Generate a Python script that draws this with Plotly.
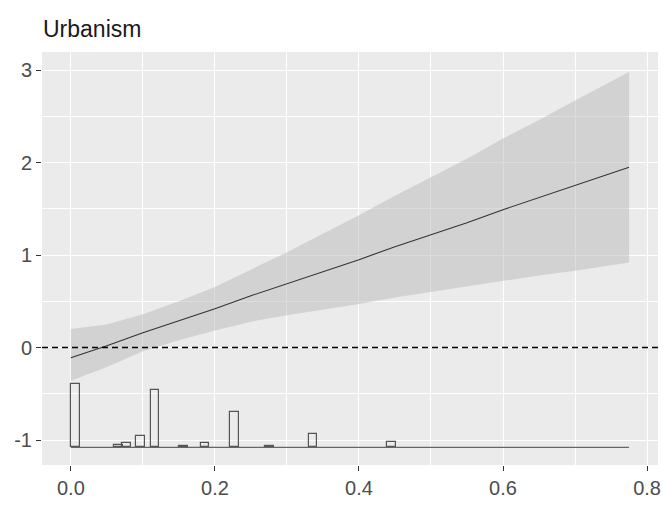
import plotly.graph_objects as go

# ---- data ----
x_grid = [0.0, 0.05, 0.1, 0.15, 0.2, 0.25, 0.3, 0.35, 0.4, 0.45, 0.5, 0.55, 0.6, 0.65, 0.7, 0.775]
effect = [-0.11, 0.02, 0.16, 0.29, 0.42, 0.56, 0.69, 0.82, 0.95, 1.09, 1.22, 1.35, 1.49, 1.62, 1.75, 1.95]
upper = [0.20, 0.25, 0.36, 0.50, 0.655, 0.84, 1.03, 1.23, 1.43, 1.64, 1.84, 2.04, 2.26, 2.46, 2.67, 2.98]
lower = [-0.36, -0.21, -0.04, 0.08, 0.185, 0.28, 0.35, 0.41, 0.47, 0.54, 0.60, 0.66, 0.72, 0.78, 0.83, 0.92]

hist_x = [0.006, 0.066, 0.077, 0.097, 0.117, 0.156, 0.186, 0.227, 0.276, 0.336, 0.445]
hist_h = [0.69, 0.03, 0.05, 0.12, 0.62, 0.02, 0.05, 0.38, 0.02, 0.14, 0.06]
hist_base = -1.08
hist_span = [0.0, 0.775]

x_ticks = [0.0, 0.2, 0.4, 0.6, 0.8]
x_tick_labels = ["0.0", "0.2", "0.4", "0.6", "0.8"]
y_ticks = [-1, 0, 1, 2, 3]
y_tick_labels = ["-1", "0", "1", "2", "3"]
title = "Urbanism"

FONT = "Liberation Sans, Arial, sans-serif"

fig = go.Figure()

# confidence ribbon
fig.add_trace(go.Scatter(x=x_grid + x_grid[::-1], y=upper + lower[::-1],
                         fill="toself", fillcolor="rgba(185,185,185,0.5)",
                         line=dict(width=0), mode="lines", hoverinfo="skip",
                         showlegend=False))
# estimated effect line
fig.add_trace(go.Scatter(x=x_grid, y=effect, mode="lines",
                         line=dict(color="#333333", width=1.1), showlegend=False))

# histogram baseline
fig.add_trace(go.Scatter(x=hist_span, y=[hist_base, hist_base], mode="lines",
                         line=dict(color="#666666", width=1.2), showlegend=False))
# histogram bars
fig.add_trace(go.Bar(x=hist_x, y=hist_h, base=hist_base, width=0.012,
                     marker=dict(color="rgba(0,0,0,0)",
                                 line=dict(color="#555555", width=1.2)),
                     showlegend=False))

# dashed zero line
fig.add_shape(type="line", xref="paper", x0=0, x1=1, yref="y", y0=0, y1=0,
              line=dict(color="black", width=1.5, dash="6px,4px"))

fig.add_annotation(text=title, xref="paper", yref="paper", x=0, y=1,
                   xanchor="left", yanchor="bottom", yshift=8, xshift=-1,
                   showarrow=False, font=dict(family=FONT, size=23, color="#1a1a1a"))

axis_common = dict(
    showgrid=True, gridcolor="white", gridwidth=1.4,
    zeroline=False, showline=False,
    ticks="outside", ticklen=5, tickwidth=1.2, tickcolor="#333333",
    tickfont=dict(family=FONT, size=20, color="#4D4D4D"),
)

fig.update_layout(
    width=663, height=506,
    margin=dict(l=42, r=2, t=52, b=41),
    paper_bgcolor="white", plot_bgcolor="#EBEBEB",
    showlegend=False, bargap=0,
    xaxis=dict(range=[-0.0401, 0.8152], tickvals=x_ticks, ticktext=x_tick_labels,
               ticklabeloverflow="allow",
               minor=dict(dtick=0.1, tick0=0, showgrid=True, gridcolor="white",
                          gridwidth=0.7, ticks=""),
               **axis_common),
    yaxis=dict(range=[-1.27, 3.195], tickvals=y_ticks, ticktext=y_tick_labels,
               minor=dict(dtick=0.5, tick0=0, showgrid=True, gridcolor="white",
                          gridwidth=0.7, ticks=""),
               **axis_common),
)

fig.write_html("out.html")
